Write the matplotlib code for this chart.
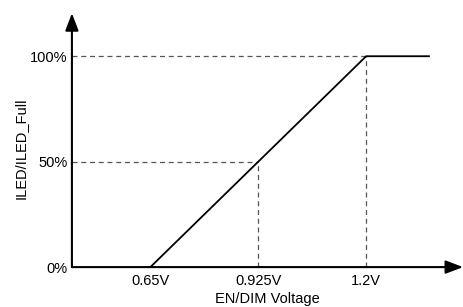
import matplotlib.pyplot as plt

plt.rcParams['font.family'] = ['Liberation Sans', 'DejaVu Sans']

# transfer curve: EN/DIM voltage vs LED current ratio
volts = [0.65, 1.2, 1.36]
ratio = [0.0, 1.0, 1.0]

x_ticks = [0.65, 0.925, 1.2]
x_labels = ['0.65V', '0.925V', '1.2V']
y_ticks = [0.0, 0.5, 1.0]
y_labels = ['0%', '50%', '100%']

fig = plt.figure(figsize=(4.64, 3.07), dpi=100)
ax = fig.add_axes([0.155, 0.130, 0.843, 0.827])
ax.set_xlim(0.45, 1.447)
ax.set_ylim(0, 1.204)

for s in ax.spines.values():
    s.set_visible(False)

# axes with arrow heads
head = '-|>,head_length=1.05,head_width=0.4'
ax.annotate('', xy=(1.0, 0), xytext=(0, 0), xycoords='axes fraction',
            arrowprops=dict(arrowstyle=head, color='black', lw=1.5,
                            shrinkA=0, shrinkB=0))
ax.annotate('', xy=(0, 1.0), xytext=(0, 0), xycoords='axes fraction',
            arrowprops=dict(arrowstyle=head, color='black', lw=1.5,
                            shrinkA=0, shrinkB=0))

# dashed guide lines
dash = dict(color='#555555', lw=0.9, linestyle=(0, (4, 3)))
ax.plot([0.45, x_ticks[2]], [1.0, 1.0], **dash)
ax.plot([0.45, x_ticks[1]], [0.5, 0.5], **dash)
ax.plot([x_ticks[1], x_ticks[1]], [0, 0.5], **dash)
ax.plot([x_ticks[2], x_ticks[2]], [0, 1.0], **dash)

ax.plot(volts, ratio, color='black', lw=1.3)

ax.set_xticks(x_ticks)
ax.set_xticklabels(x_labels, fontsize=10.5)
ax.set_yticks(y_ticks)
ax.set_yticklabels(y_labels, fontsize=10.5)
ax.tick_params(axis='x', length=0, pad=5)
ax.tick_params(axis='y', length=0, pad=3)

ax.set_xlabel('EN/DIM Voltage', fontsize=10.5, labelpad=3)
ax.set_ylabel('ILED/ILED_Full', fontsize=10.5)
ax.yaxis.set_label_coords(-0.113, 0.47)

fig.savefig('out.png', dpi=100)
